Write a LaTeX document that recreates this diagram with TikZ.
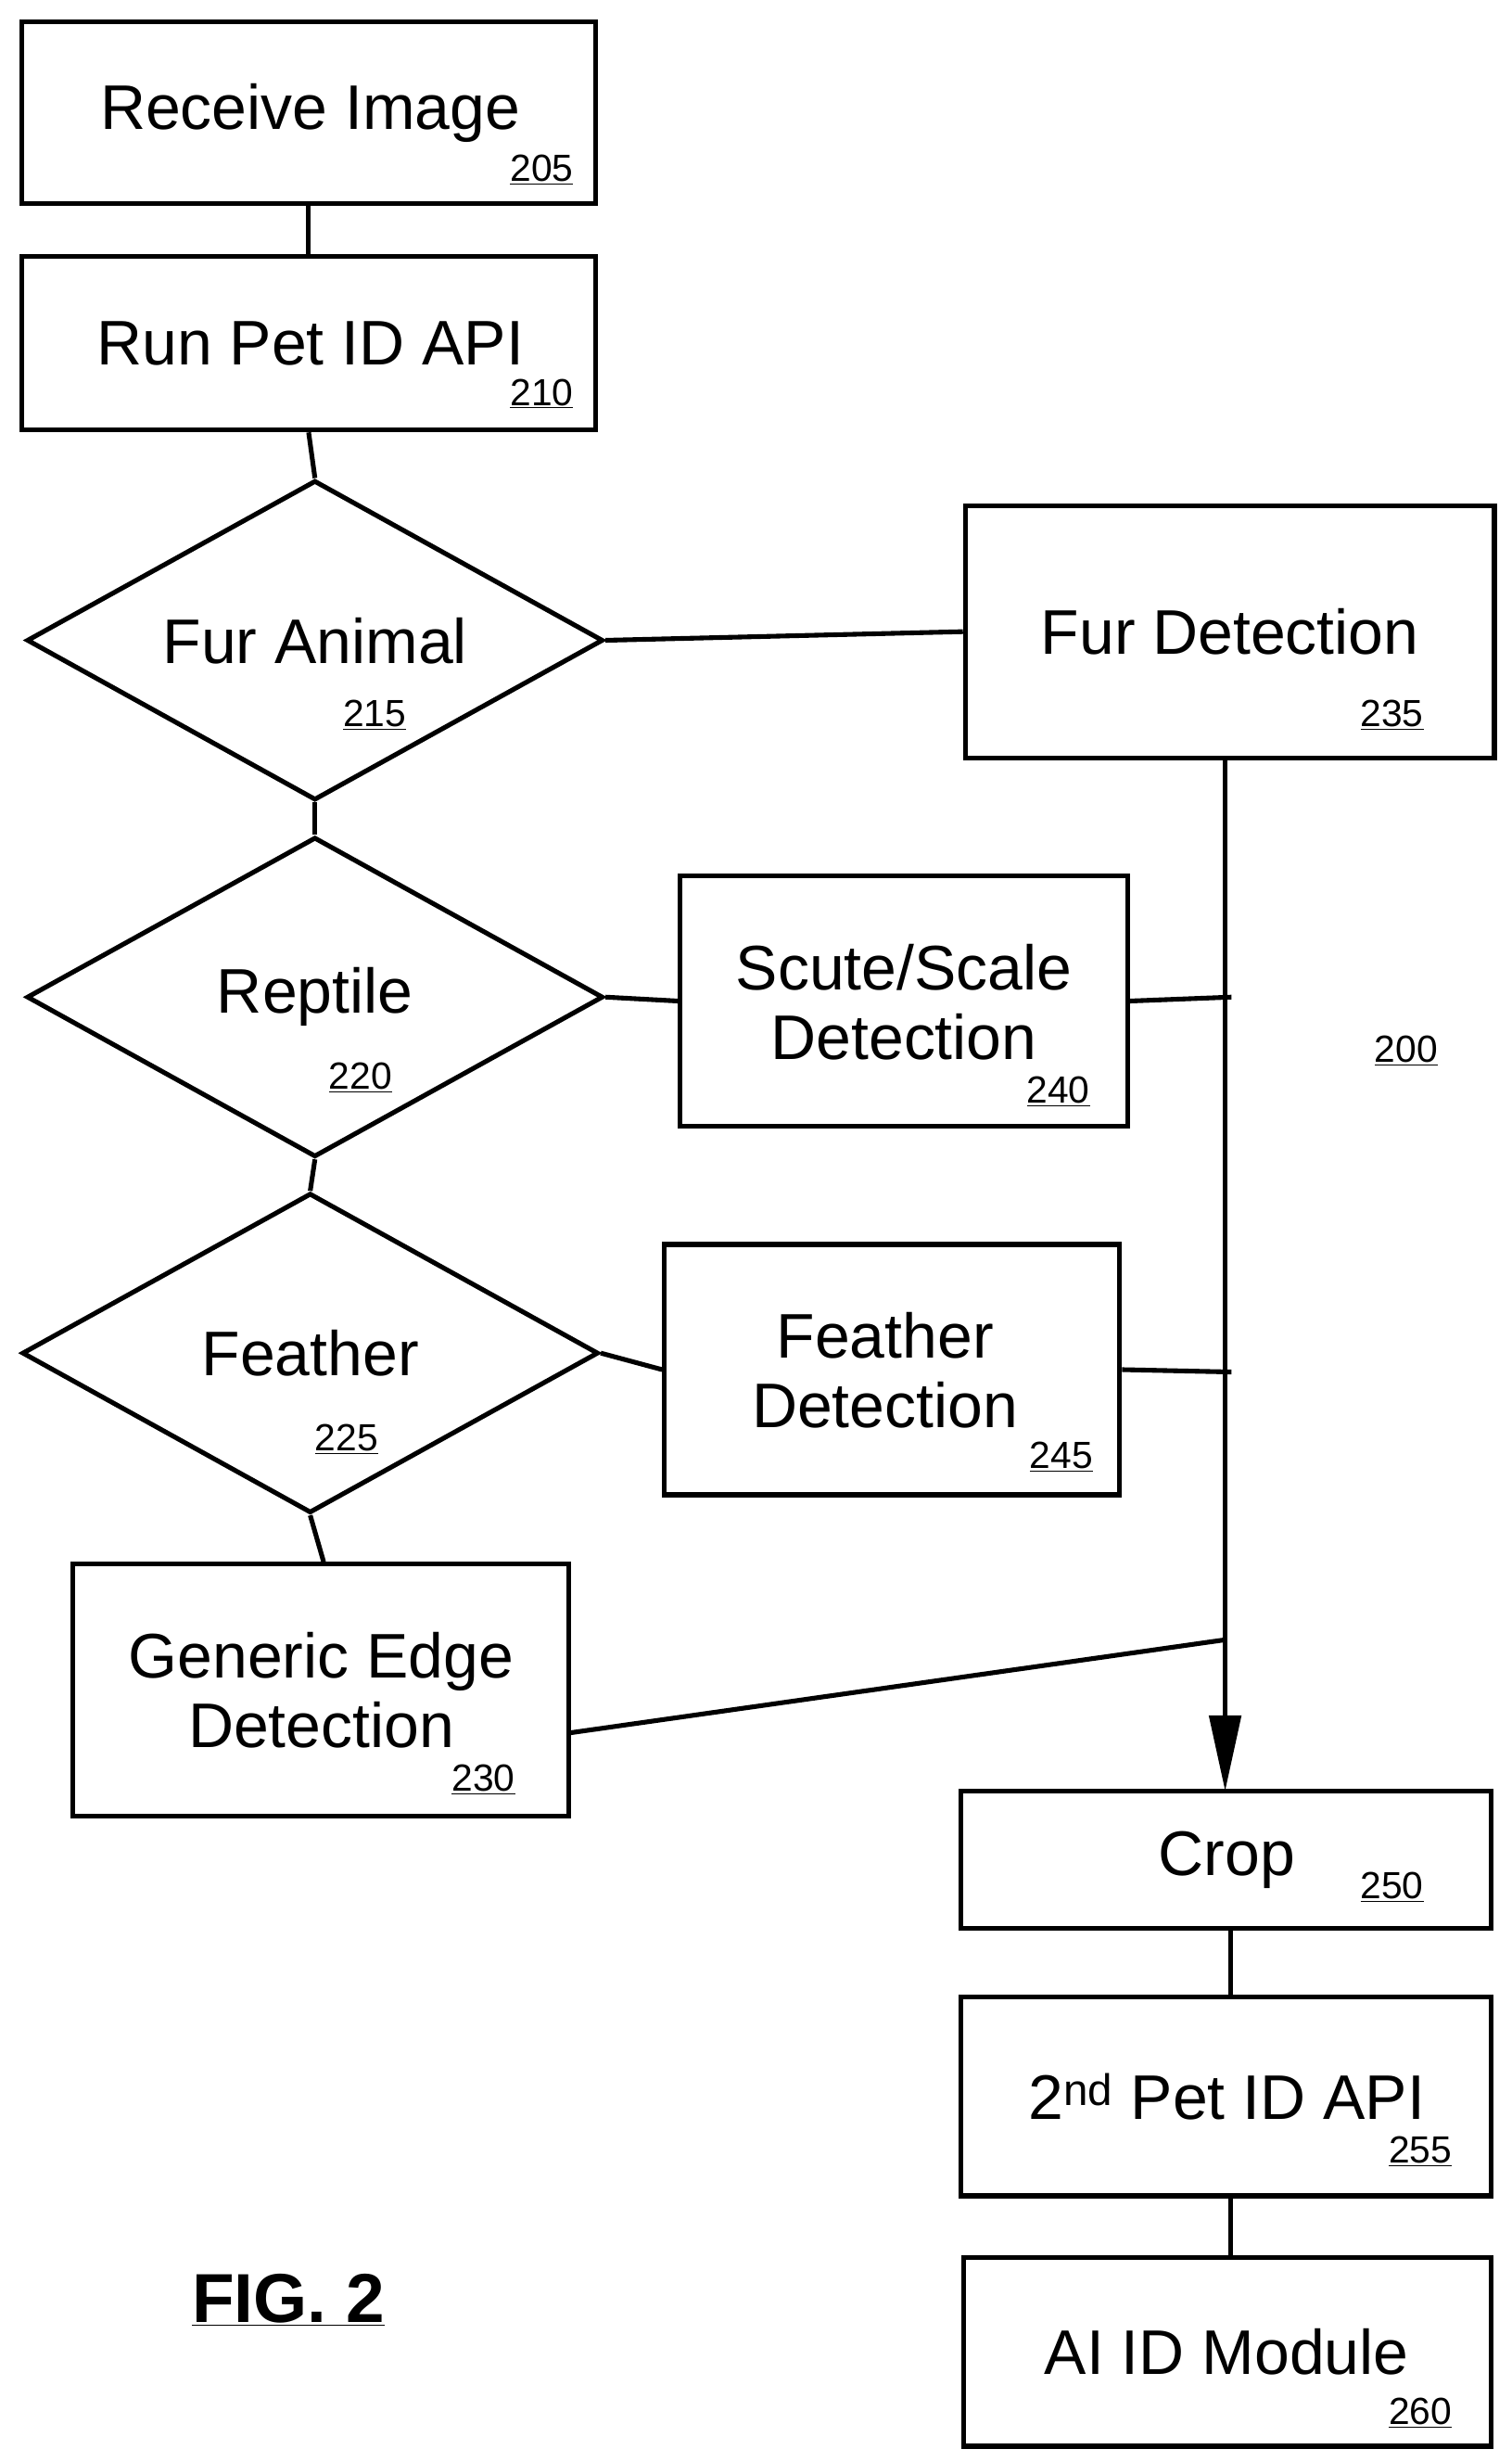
\documentclass[tikz,border=0pt]{standalone}
\usepackage{fontspec}
\setmainfont{Liberation Sans}
\usetikzlibrary{shapes.geometric,arrows.meta}
\begin{document}
\begin{tikzpicture}[x=1pt,y=-1pt,line width=3pt,
 box/.style={draw,rectangle,inner sep=0pt},
 dia/.style={draw,diamond,inner sep=0pt,minimum width=366pt,minimum height=203pt},
 t/.style={font=\fontsize{40}{44}\selectfont,align=center,inner sep=0pt},
 n/.style={font=\fontsize{24}{26}\selectfont,inner sep=0pt}]
\useasboundingbox (0,0) rectangle (960,1563);
\node[box,minimum width=364pt,minimum height=115pt] (b205) at (196,71.5) {};
\node[t] at (197,72) {Receive Image};
\node[n] at (344,108) {\underline{205}};
\node[box,minimum width=364pt,minimum height=110pt] (b210) at (196,218) {};
\node[t] at (197,218) {Run Pet ID API};
\node[n] at (344,250) {\underline{210}};
\node[dia] (d215) at (200,406.5) {};
\node[t] at (200,407) {Fur Animal};
\node[n] at (238,454) {\underline{215}};
\node[dia] (d220) at (200,633) {};
\node[t] at (200,633) {Reptile};
\node[n] at (229,684) {\underline{220}};
\node[dia] (d225) at (197,859) {};
\node[t] at (197,859) {Feather};
\node[n] at (220,914) {\underline{225}};
\node[box,minimum width=315pt,minimum height=160pt] (b230) at (203.5,1073) {};
\node[t] at (204,1073) {Generic Edge\\Detection};
\node[n] at (307,1130) {\underline{230}};
\node[box,minimum width=336pt,minimum height=160pt] (b235) at (781,401) {};
\node[t] at (781,401) {Fur Detection};
\node[n] at (884,454) {\underline{235}};
\node[box,minimum width=284pt,minimum height=159pt] (b240) at (574,635.5) {};
\node[t] at (574,636) {Scute/Scale\\Detection};
\node[n] at (672,693) {\underline{240}};
\node[box,minimum width=289pt,minimum height=159pt] (b245) at (566.5,869.5) {};
\node[t] at (562,870) {Feather\\Detection};
\node[n] at (674,925) {\underline{245}};
\node[box,minimum width=337pt,minimum height=87pt] (b250) at (778.5,1180.5) {};
\node[t] at (779,1181) {Crop};
\node[n] at (884,1198) {\underline{250}};
\node[box,minimum width=337pt,minimum height=126pt] (b255) at (778.5,1331) {};
\node[t] at (779,1331) {2\textsuperscript{nd} Pet ID API};
\node[n] at (902,1366) {\underline{255}};
\node[box,minimum width=335pt,minimum height=120pt] (b260) at (779.5,1493) {};
\node[t] at (779,1493) {AI ID Module};
\node[n] at (902,1532) {\underline{260}};
\node[n] (l200) at (893,667) {\underline{200}};
\node[font=\bfseries\fontsize{44}{48}\selectfont,inner sep=0pt] (fig) at (183,1460) {\underline{FIG. 2}};
\coordinate (top) at (778,481);
\coordinate (j240) at (782,633);
\coordinate (j245) at (782,871);
\coordinate (j230) at (778,1041);
\draw (b205.south) -- (b210.north);
\draw (b210.south) -- (d215.north);
\draw (d215.south) -- (d220.north);
\draw (d220.south) -- (d225.north);
\draw (d225.south) -- ([xshift=2pt]b230.north);
\draw (d215.east) -- (b235.west);
\draw (d220.east) -- (b240.west);
\draw (d225.east) -- (b245.west);
\draw (b240.east) -- (j240);
\draw (b245.east) -- (j245);
\draw ([yshift=-27pt]b230.east) -- (j230);
\draw[-{Triangle[length=48pt,width=20pt]}] (top) -- (778,1137);
\draw ([xshift=3pt]b250.south) -- ([xshift=3pt]b255.north);
\draw ([xshift=3pt]b255.south) -- ([xshift=2pt]b260.north);
\end{tikzpicture}
\end{document}
